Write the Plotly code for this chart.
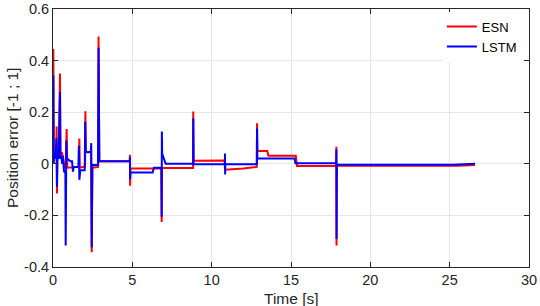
import plotly.graph_objects as go

# ESN series (time [s], position error)
esn_t = [0.00, 0.02, 0.05, 0.12, 0.20, 0.23, 0.25, 0.28, 0.38, 0.44, 0.47, 0.55, 0.62, 0.70, 0.80,
         0.86, 0.90, 1.64, 1.66, 1.69, 2.02, 2.04, 2.07, 2.40, 2.44, 2.48, 2.84, 2.87, 2.92, 4.84,
         4.85, 4.86, 4.88, 6.83, 6.85, 6.87, 8.83, 8.84, 8.86, 10.82, 10.84, 12.00, 12.84, 12.86,
         12.88, 13.50, 13.58, 15.30, 15.38, 17.85, 17.86, 17.87, 17.89, 25.50, 26.60]
esn_v = [0.02, 0.445, 0.03, 0.05, 0.03, 0.145, -0.115, 0.04, 0.03, 0.35, 0.03, 0.045, 0.03, -0.01, -0.015,
         0.135, -0.015, -0.012, 0.098, -0.015, -0.01, 0.204, 0.045, 0.045, -0.343, -0.015, -0.012, 0.493, 0.01, 0.01,
         0.035, -0.085, -0.018, -0.018, -0.226, -0.016, -0.016, 0.203, 0.012, 0.013, -0.023, -0.018, -0.012, 0.157,
         0.05, 0.05, 0.031, 0.031, -0.009, -0.009, 0.066, -0.317, -0.008, -0.008, -0.005]

# LSTM series
lstm_t = [0.00, 0.02, 0.04, 0.08, 0.15, 0.22, 0.25, 0.28, 0.35, 0.44, 0.47, 0.52, 0.58, 0.62, 0.70,
          0.78, 0.80, 0.84, 0.88, 1.10, 1.20, 1.26, 1.30, 1.60, 1.63, 1.66, 1.72, 2.00, 2.03, 2.06,
          2.38, 2.41, 2.44, 2.48, 2.84, 2.87, 2.92, 4.84, 4.85, 4.86, 4.88, 6.28, 6.36, 6.83, 6.85,
          6.86, 6.88, 7.10, 8.83, 8.84, 8.86, 10.83, 10.84, 10.85, 10.86, 12.85, 12.86, 12.88, 15.22,
          15.28, 17.85, 17.86, 17.87, 17.89, 25.20, 26.60]
lstm_v = [0.0, 0.343, 0.0, 0.03, 0.02, 0.10, -0.09, 0.03, 0.02, 0.278, 0.02, 0.03, 0.0, 0.03, -0.03,
          -0.035, -0.317, 0.09, 0.02, 0.01, 0.01, -0.03, -0.012, -0.012, 0.07, -0.062, -0.025, -0.025, 0.163, 0.046,
          0.046, 0.08, -0.324, -0.005, -0.005, 0.45, 0.01, 0.01, 0.025, -0.06, -0.034, -0.034, -0.015, -0.015, -0.205,
          0.125, 0.04, 0.0, 0.0, 0.176, -0.002, -0.002, 0.04, -0.041, -0.002, -0.002, 0.137, 0.021, 0.021,
          0.002, 0.002, 0.055, -0.291, -0.004, -0.004, 0.0]

x_ticks = [0, 5, 10, 15, 20, 25, 30]
y_ticks = [-0.4, -0.2, 0, 0.2, 0.4, 0.6]
y_tick_text = ["-0.4", "-0.2", "0", "0.2", "0.4", "0.6"]

FONT = "Liberation Sans, Arial, sans-serif"

fig = go.Figure()
fig.add_trace(go.Scatter(x=esn_t, y=esn_v, mode="lines", name="ESN",
                         line=dict(color="#ff0000", width=2)))
fig.add_trace(go.Scatter(x=lstm_t, y=lstm_v, mode="lines", name="LSTM",
                         line=dict(color="#0000ff", width=2)))

axis_common = dict(
    showline=True, linecolor="#262626", linewidth=1, mirror="allticks",
    ticks="inside", ticklen=5, tickcolor="#262626", tickwidth=1,
    showgrid=True, gridcolor="#e6e6e6", gridwidth=1, zeroline=False,
    tickfont=dict(family=FONT, size=14.5, color="#262626"),
    automargin=False,
)

W, H = 540, 306
L, R, T, B = 53, 11, 9, 39

fig.update_layout(
    width=W, height=H,
    margin=dict(l=L, r=R, t=T, b=B, pad=0, autoexpand=False),
    paper_bgcolor="white", plot_bgcolor="white",
    showlegend=True,
    legend=dict(x=0.985, y=0.99, xanchor="right", yanchor="top",
                bgcolor="white", borderwidth=0,
                font=dict(family=FONT, size=13, color="#000000"),
                tracegroupgap=0, itemwidth=30),
    xaxis=dict(range=[0, 30], tickvals=x_ticks, **axis_common),
    yaxis=dict(range=[-0.4, 0.6], tickvals=y_ticks, ticktext=y_tick_text, **axis_common),
    annotations=[
        dict(text="Time [s]", xref="paper", yref="paper",
             x=(291 - L) / (W - L - R), y=-(298 - (H - B)) / (H - T - B),
             xanchor="center", yanchor="middle", showarrow=False,
             font=dict(family=FONT, size=15.5, color="#262626")),
        dict(text="Position error [-1 ; 1]", xref="paper", yref="paper",
             x=-(L - 12) / (W - L - R), y=1 - (138 - T) / (H - T - B),
             xanchor="center", yanchor="middle", showarrow=False, textangle=-90,
             font=dict(family=FONT, size=15.5, color="#262626")),
    ],
)

fig.write_html("out.html", config={"displayModeBar": False},
               post_script="document.body.style.margin='0';document.body.style.overflow='hidden';")
